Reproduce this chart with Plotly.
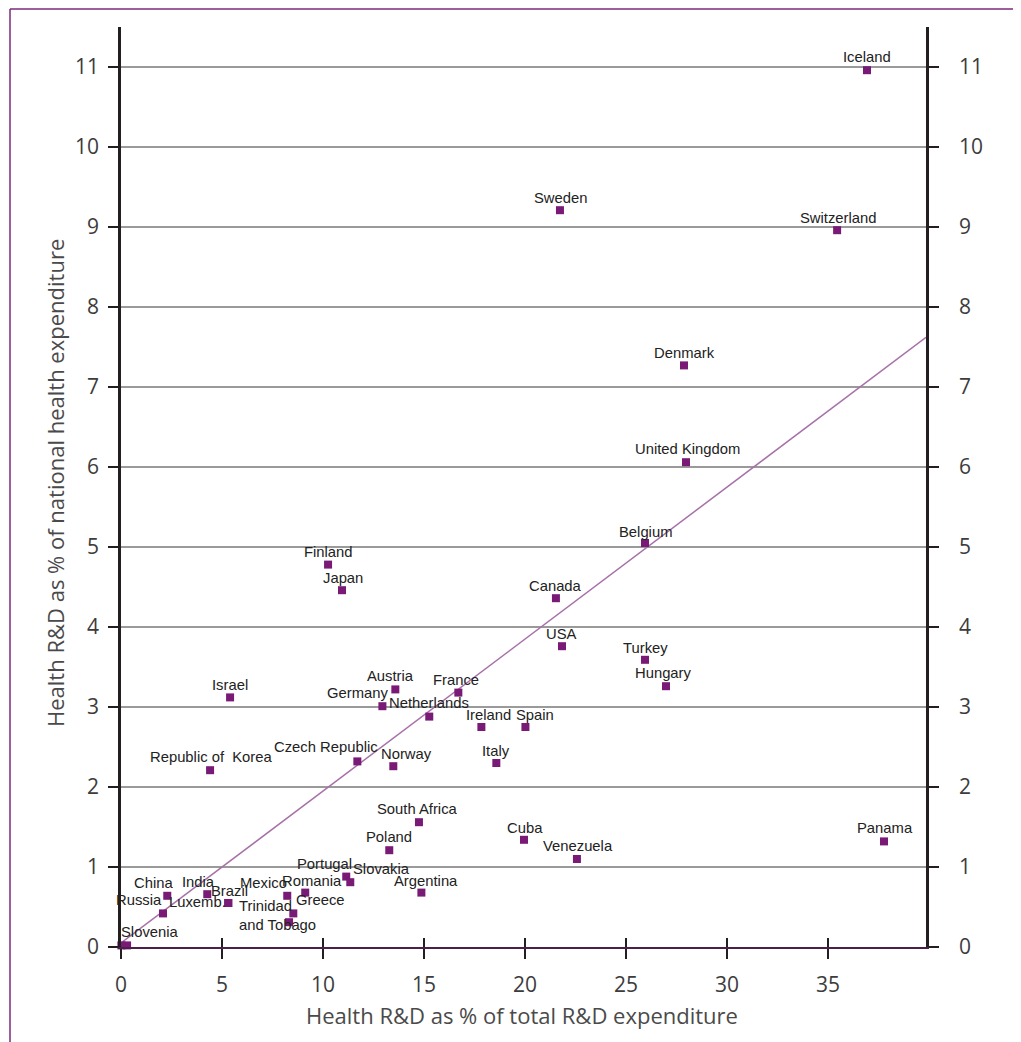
import plotly.graph_objects as go

# ---- data ----
countries = ["Iceland", "Sweden", "Switzerland", "Denmark", "United Kingdom", "Belgium",
             "Finland", "Japan", "Canada", "USA", "Turkey", "Hungary", "Israel", "Austria",
             "France", "Germany", "Netherlands", "Ireland", "Spain", "Czech Republic", "Norway",
             "Italy", "Republic of  Korea", "South Africa", "Poland", "Cuba", "Venezuela", "Panama",
             "Portugal", "Slovakia", "Argentina", "Romania", "Mexico", "Greece",
             "Trinidad<br>and Tobago", "China", "India", "Brazil", "Luxemb.", "Russia", "Slovenia", ""]
rd_share_total = [36.93, 21.73, 35.45, 27.87, 27.97, 25.94,
                  10.25, 10.94, 21.53, 21.83, 25.94, 26.98, 5.40, 13.58,
                  16.70, 12.94, 15.26, 17.84, 20.02, 11.70, 13.48,
                  18.58, 4.41, 14.75, 13.28, 19.95, 22.57, 37.77,
                  11.15, 11.35, 14.87, 9.12, 8.23, 8.53,
                  8.32, 2.29, 4.27, 5.31, 5.31, 2.08, 0.30, 0.02]
rd_share_health = [10.96, 9.21, 8.96, 7.27, 6.06, 5.05,
                   4.78, 4.46, 4.36, 3.76, 3.59, 3.26, 3.12, 3.22,
                   3.18, 3.01, 2.88, 2.75, 2.75, 2.32, 2.26,
                   2.30, 2.21, 1.56, 1.21, 1.34, 1.10, 1.32,
                   0.88, 0.81, 0.68, 0.68, 0.64, 0.42,
                   0.31, 0.64, 0.66, 0.55, 0.55, 0.42, 0.02, 0.02]
trend_x = [0.0, 39.85]
trend_y = [0.05, 7.62]
x_ticks = [0, 5, 10, 15, 20, 25, 30, 35]
y_ticks = [0, 1, 2, 3, 4, 5, 6, 7, 8, 9, 10, 11]

# ---- label placement (pixel offsets of text centre from the marker) ----
label_offsets = [(0, 13), (1, 12), (1, 12), (1, 12), (1, 13), (0, 11),
                 (0, 13), (1, 12), (0, 12), (0, 12), (0, 12), (-3, 13), (0, 12), (-5, 13),
                 (-2, 13), (-25, 13), (0, 14), (7, 12), (10, 12), (-31, 14), (13, 12),
                 (0, 12), (1, 13), (-1, 13), (0, 13), (1, 12), (1, 13), (1, 13),
                 (-22, 13), (31, 13), (5, 12), (7, 12), (-24, 13), (27, 13),
                 (-12, 7), (-14, 13), (-9, 12), (1, 12), (-31, 1), (-24, 13), (23, 13), (0, 0)]

PURPLE = "#781a76"
XMAX, YMAX = 39.85, 11.5

fig = go.Figure()

fig.add_trace(go.Scatter(x=trend_x, y=trend_y, mode="lines",
                         line=dict(color="#a771a8", width=1.5),
                         hoverinfo="skip", showlegend=False))
fig.add_trace(go.Scatter(x=rd_share_total, y=rd_share_health, mode="markers",
                         marker=dict(symbol="square", size=8, color=PURPLE),
                         cliponaxis=False, showlegend=False))
# invisible trace so the secondary axes are drawn
fig.add_trace(go.Scatter(x=[0], y=[0], xaxis="x2", yaxis="y2", mode="markers",
                         marker=dict(opacity=0), hoverinfo="skip", showlegend=False))

for name, xv, yv, (dx, dy) in zip(countries, rd_share_total, rd_share_health, label_offsets):
    if not name:
        continue
    fig.add_annotation(x=xv, y=yv, text=name, showarrow=False,
                       xanchor="center", yanchor="middle", align="left",
                       xshift=dx, yshift=dy,
                       font=dict(family="Liberation Sans, Arial", size=14.8, color="#222222"))

tick_font = dict(family="Open Sans", size=21, color="#3c3c3c")

# page has an 8px body margin, so the figure is 8px smaller than the window
W, H = 1013, 1034
L, R, T, B = 113, 95, 19, 95

fig.update_layout(
    width=W, height=H,
    margin=dict(l=L, r=R, t=T, b=B),
    paper_bgcolor="white", plot_bgcolor="white",
    xaxis=dict(range=[0, XMAX], tickvals=x_ticks, ticks="outside", ticklen=10,
               tickwidth=2, tickcolor="#231f20", showline=True, linecolor="#4a1f4a",
               linewidth=2, showgrid=False, zeroline=False, tickfont=tick_font,
               ticklabelstandoff=8),
    xaxis2=dict(range=[0, XMAX], tickvals=x_ticks, ticks="inside", ticklen=9,
                tickwidth=2, tickcolor="#231f20", overlaying="x", side="bottom",
                showticklabels=False, showgrid=False, zeroline=False, showline=False),
    yaxis=dict(range=[0, YMAX], tickvals=y_ticks, ticks="outside", ticklen=10,
               tickwidth=2, tickcolor="#231f20", showline=True, linecolor="#231f20",
               linewidth=2.5, showgrid=True, gridcolor="#9a9a9a", gridwidth=2,
               zeroline=False, tickfont=tick_font, ticklabelstandoff=5),
    yaxis2=dict(range=[0, YMAX], tickvals=y_ticks, ticks="outside", ticklen=10,
                tickwidth=2, tickcolor="#231f20", showline=True, linecolor="#231f20",
                linewidth=2.5, overlaying="y", side="right", anchor="x",
                showgrid=False, zeroline=False, tickfont=tick_font, ticklabelstandoff=16),
)

pw, ph = W - L - R, H - T - B

# axis titles
title_font = dict(family="Open Sans", size=22, color="#4a4a4a")
fig.add_annotation(x=(522 - 8 - L) / pw, y=(H - B - (1015 - 8)) / ph,
                   xref="paper", yref="paper", showarrow=False,
                   text="Health R&D as % of total R&D expenditure", font=title_font,
                   xanchor="center", yanchor="middle")
fig.add_annotation(x=(55 - 8 - L) / pw, y=(H - B - (483 - 8)) / ph,
                   xref="paper", yref="paper", showarrow=False,
                   text="Health R&D as % of national health expenditure", font=title_font,
                   textangle=-90, xanchor="center", yanchor="middle")

# purple frame around figure
fx0 = (10 - 8 - L) / pw
fy1 = (H - B - (9 - 8)) / ph
fig.add_shape(type="line", xref="paper", yref="paper", x0=fx0, x1=fx0, y0=-0.2, y1=fy1,
              line=dict(color="#7b2a7a", width=1.5))
fig.add_shape(type="line", xref="paper", yref="paper", x0=fx0, x1=1.2, y0=fy1, y1=fy1,
              line=dict(color="#7b2a7a", width=1.5))

fig.write_html("out.html")
